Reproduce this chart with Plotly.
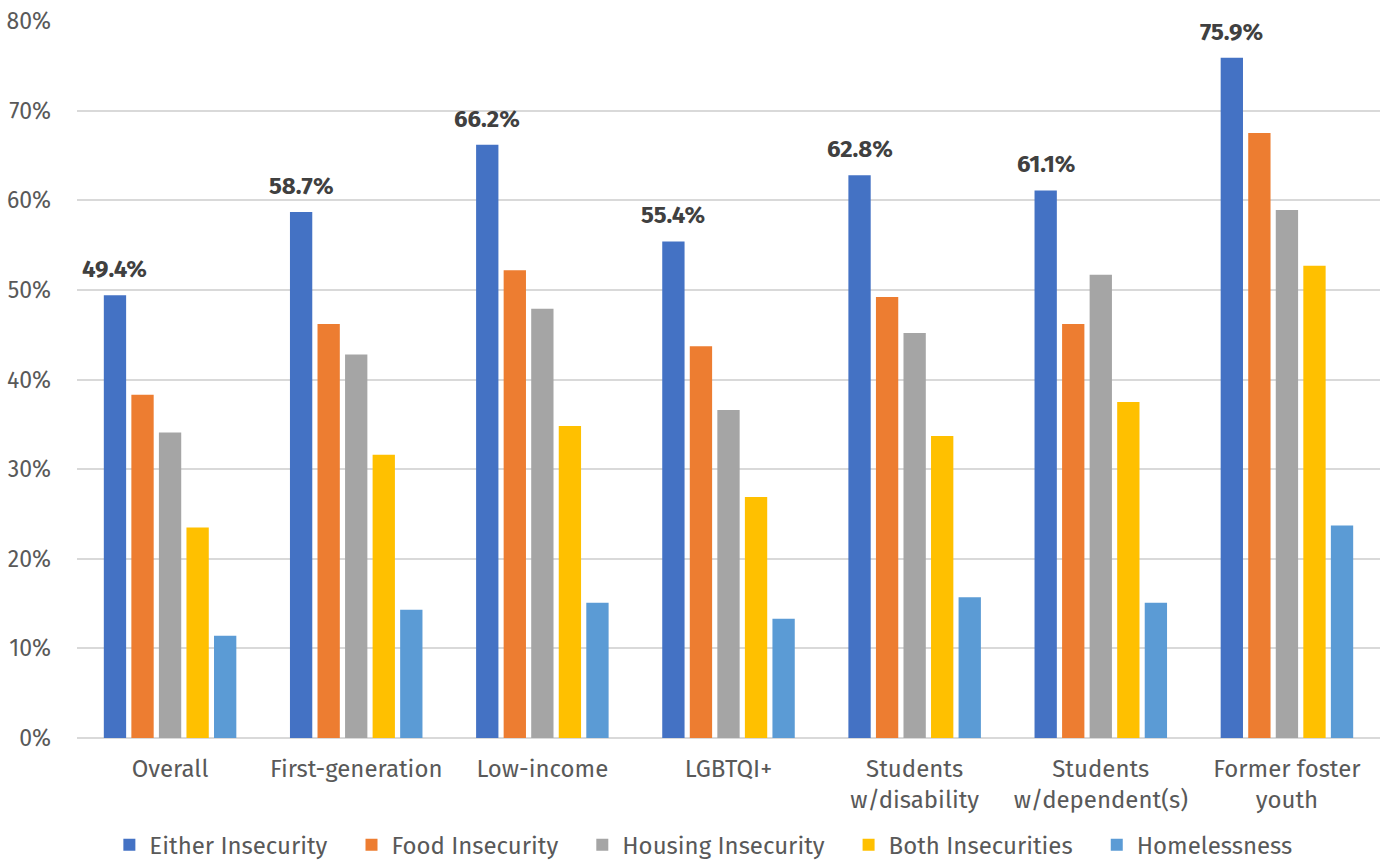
import plotly.graph_objects as go

categories = ["Overall", "First-generation", "Low-income", "LGBTQI+",
              "Students<br>w/disability", "Students<br>w/dependent(s)", "Former foster<br>youth"]
series_names = ["Either Insecurity", "Food Insecurity", "Housing Insecurity",
                "Both Insecurities", "Homelessness"]
either = [49.4, 58.7, 66.2, 55.4, 62.8, 61.1, 75.9]
food = [38.3, 46.2, 52.2, 43.7, 49.2, 46.2, 67.5]
housing = [34.1, 42.8, 47.9, 36.6, 45.2, 51.7, 58.9]
both = [23.5, 31.6, 34.8, 26.9, 33.7, 37.5, 52.7]
homeless = [11.4, 14.3, 15.1, 13.3, 15.7, 15.1, 23.7]
colors = ["#4472C4", "#ED7D31", "#A5A5A5", "#FFC000", "#5B9BD5"]

FONT = "Fira Sans, Noto Sans, sans-serif"
PAD = "\u00a0" * 3
W, H = 1385, 861
ML, MR, MT, MB = 77, 5, 21, 123
BARGAP, GROUPGAP = 0.26, 0.19

fig = go.Figure()
for i, (name, vals) in enumerate(zip(series_names, [either, food, housing, both, homeless])):
    fig.add_trace(go.Bar(x=categories, y=vals, name=name + PAD,
                         marker=dict(color=colors[i], line=dict(width=0))))

# data labels above the first series, offset to that bar's slot within each group
cat_px = (W - ML - MR) / len(categories)
slot_px = cat_px * (1 - BARGAP) / len(series_names)
first_offset = -2 * slot_px
for c, v in zip(categories, either):
    fig.add_annotation(x=c, y=v, xref="x", yref="y", text=f"<b>{v:.1f}%</b>",
                       showarrow=False, yanchor="bottom", yshift=10, xshift=first_offset,
                       font=dict(family=FONT, size=24, color="#404040"))

fig.update_layout(
    width=W, height=H,
    barmode="group", bargap=BARGAP, bargroupgap=GROUPGAP,
    plot_bgcolor="white", paper_bgcolor="white",
    margin=dict(l=ML, r=MR, t=MT, b=MB, autoexpand=False),
    font=dict(family=FONT, size=24, color="#595959"),
    showlegend=True,
    legend=dict(orientation="h", x=0.488, xanchor="center", y=-0.118, yanchor="top",
                font=dict(size=24, color="#595959"), itemwidth=30, traceorder="normal"),
)
fig.update_yaxes(range=[0, 80], dtick=10, ticksuffix="%", showgrid=True, gridcolor="#D9D9D9",
                 gridwidth=1.5, zeroline=True, zerolinecolor="#D9D9D9", zerolinewidth=1.5,
                 tickfont=dict(size=23, color="#595959"), ticks="", automargin=False,
                 ticklabelstandoff=25)
fig.update_xaxes(showline=False, tickfont=dict(size=24, color="#595959"), ticks="",
                 automargin=False, ticklabelstandoff=14)
fig.write_html("out.html", config={"displayModeBar": False},
               post_script="document.body.style.margin='0';document.body.style.overflow='hidden';")
